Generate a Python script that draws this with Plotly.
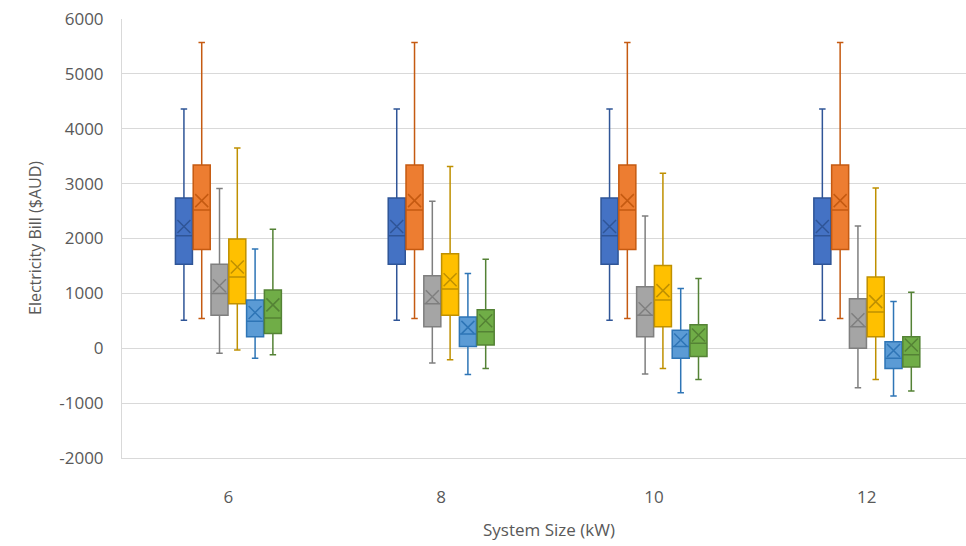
import plotly.graph_objects as go

# System sizes on the category axis
system_sizes = ["6", "8", "10", "12"]

# Bill axis ticks (labels written with a plain hyphen for negatives)
bill_ticks = [-2000, -1000, 0, 1000, 2000, 3000, 4000, 5000, 6000]
bill_tick_labels = ["-2000", "-1000", "0", "1000", "2000", "3000", "4000", "5000", "6000"]

series_names = ["Series 1", "Series 2", "Series 3", "Series 4", "Series 5", "Series 6"]

# Five-number summaries (plus mean) of the annual bill, one list per series,
# one value per system size
lower = [
    [510, 510, 510, 510],
    [540, 540, 540, 540],
    [-90, -270, -470, -720],
    [-30, -210, -370, -570],
    [-180, -480, -810, -870],
    [-120, -370, -570, -780],
]
q1 = [
    [1530, 1530, 1530, 1530],
    [1800, 1800, 1800, 1800],
    [600, 390, 210, 0],
    [810, 600, 390, 210],
    [210, 30, -180, -370],
    [270, 60, -150, -340],
]
median = [
    [2050, 2050, 2050, 2050],
    [2520, 2520, 2520, 2520],
    [1000, 810, 600, 390],
    [1300, 1080, 880, 660],
    [490, 260, 30, -180],
    [550, 300, 90, -120],
]
q3 = [
    [2740, 2740, 2740, 2740],
    [3340, 3340, 3340, 3340],
    [1530, 1320, 1120, 900],
    [1990, 1720, 1510, 1300],
    [880, 570, 330, 120],
    [1060, 700, 430, 210],
]
upper = [
    [4360, 4360, 4360, 4360],
    [5570, 5570, 5570, 5570],
    [2910, 2680, 2410, 2230],
    [3650, 3310, 3190, 2920],
    [1810, 1360, 1090, 850],
    [2170, 1620, 1270, 1020],
]
mean = [
    [2220, 2220, 2220, 2220],
    [2690, 2690, 2690, 2690],
    [1140, 940, 720, 520],
    [1480, 1250, 1050, 850],
    [650, 380, 150, -40],
    [790, 500, 240, 60],
]

fills = ["#4472C4", "#ED7D31", "#A5A5A5", "#FFC000", "#5B9BD5", "#70AD47"]
lines = ["#2F5597", "#C55A11", "#7F7F7F", "#BF9000", "#2E75B6", "#548235"]

slot = 0.0836      # spacing between neighbouring boxes within a group
box_w = 0.08       # box width in category units
n = len(series_names)

fig = go.Figure()
for k in range(n):
    offset = (k - (n - 1) / 2) * slot
    xs = [i + offset for i in range(len(system_sizes))]
    fig.add_trace(go.Box(
        name=series_names[k],
        x=xs,
        q1=q1[k], median=median[k], q3=q3[k],
        lowerfence=lower[k], upperfence=upper[k],
        width=box_w,
        whiskerwidth=0.38,
        boxpoints=False,
        fillcolor=fills[k],
        line=dict(color=lines[k], width=1.5),
        showlegend=False,
    ))
    fig.add_trace(go.Scatter(
        x=xs, y=mean[k],
        mode="markers",
        marker=dict(symbol="x-thin", size=13,
                    line=dict(color=lines[k], width=1.5)),
        showlegend=False,
        hoverinfo="skip",
    ))

text_color = "#595959"
grid = "#D9D9D9"
font_family = "Open Sans, Noto Sans, sans-serif"

fig.update_layout(
    width=966, height=546,
    margin=dict(l=122, r=0, t=19, b=88),
    paper_bgcolor="white", plot_bgcolor="white",
    boxmode="overlay",
    font=dict(family=font_family, color=text_color),
    xaxis=dict(
        range=[-0.5, 3.466],
        tickmode="array",
        tickvals=list(range(len(system_sizes))),
        ticktext=system_sizes,
        showgrid=False, zeroline=False,
        showline=True, linecolor=grid, linewidth=1,
        ticks="outside", ticklen=24, tickcolor="rgba(0,0,0,0)",
        tickfont=dict(size=17, color=text_color),
    ),
    yaxis=dict(
        range=[-2000, 6000],
        tickmode="array",
        tickvals=bill_ticks,
        ticktext=bill_tick_labels,
        showgrid=True, gridcolor=grid, gridwidth=1,
        zeroline=False,
        showline=True, linecolor=grid, linewidth=1,
        ticks="outside", ticklen=14, tickcolor="rgba(0,0,0,0)",
        tickfont=dict(size=17, color=text_color),
    ),
    annotations=[
        dict(text="System Size (kW)", xref="paper", yref="paper",
             x=(549 - 122) / 844, y=-(529.5 - 458) / 439,
             xanchor="center", yanchor="middle", showarrow=False,
             font=dict(size=17, color=text_color)),
        dict(text="Electricity Bill ($AUD)", xref="paper", yref="paper",
             x=(35 - 122) / 844, y=(458 - 238) / 439,
             xanchor="center", yanchor="middle", showarrow=False,
             textangle=-90,
             font=dict(size=16, color=text_color)),
    ],
)

fig.write_html("out.html")
